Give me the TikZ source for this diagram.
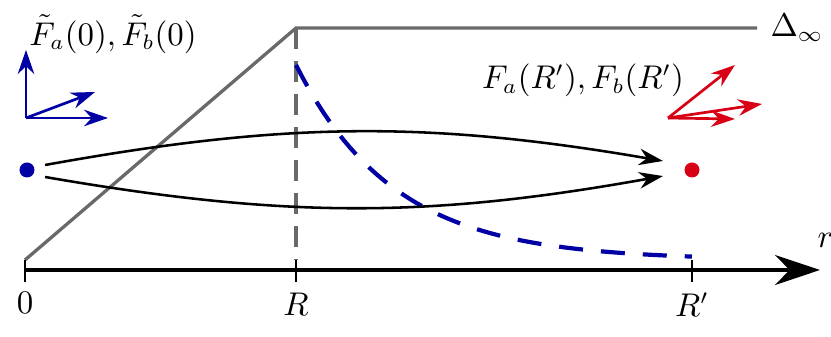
\documentclass[tikz,border=0pt]{standalone}
\definecolor{FieldBlue}{RGB}{0,0,165}
\definecolor{FieldRed}{RGB}{215,0,20}
\definecolor{WallGray}{RGB}{105,105,105}
\usetikzlibrary{positioning,arrows.meta,calc}
\tikzset{>={Stealth[length=8pt,width=5.5pt]}}
\tikzset{mydots/.style={circle,inner sep=0pt,minimum size=5pt}}
\tikzset{myvecs/.style={line width=0.9pt,->}}
\tikzset{mypaths/.style={line width=0.85pt,->,shorten >=2pt}}
\begin{document}
\begin{tikzpicture}[x=33.33pt,y=33.33pt,font=\fontsize{10.5}{12}\selectfont]
                \useasboundingbox (-0.25,-0.67) rectangle (8.06,2.70);
                % potential wall
                \coordinate (w0) at (0,0.10);
                \coordinate (wR) at (2.71,2.42);
                \coordinate (wE) at (7.32,2.42);
                \draw[WallGray,line width=1.1pt] (w0) -- (wR) -- (wE);
                \node[right=1pt of wE] (delta) {$\Delta_\infty$};
                \draw[WallGray,line width=1.1pt,dash pattern=on 7pt off 4pt] (wR) -- (2.71,0.10);
                % decaying tail
                \draw[FieldBlue,line width=1.4pt,dash pattern=on 8pt off 6pt,domain=2.71:6.67,samples=60]
                    plot (\x,{0.10+1.95*exp(-(\x-2.71)/0.98)});
                % axis
                \coordinate (o) at (0,0);
                \coordinate (rend) at (7.95,0);
                \draw[line width=1.1pt,-{Stealth[length=15pt,width=10pt]}] (o) -- (rend);
                \node[above left=4pt and -8pt of rend] (rlab) {$r$};
                \foreach \p/\n/\t in {0/t0/0, 2.71/tR/R, 6.67/tRp/R'} {
                    \draw[line width=0.8pt] (\p,0.10) -- (\p,-0.12);
                    \node[below] (\n) at (\p,-0.12) {$\t$};
                }
                % end points
                \node[mydots,fill=FieldBlue] (a) at (0.02,1.00) {};
                \node[mydots,fill=FieldRed] (b) at (6.67,1.00) {};
                \draw[mypaths] ($(a.east)+(0.1,0.05)$) coordinate (a1) to[bend left=10] ($(b.west)+(-0.15,0.08)$) coordinate (b1);
                \draw[mypaths] ($(a.east)+(0.1,-0.07)$) coordinate (a2) to[bend right=10] ($(b.west)+(-0.15,-0.05)$) coordinate (b2);
                % frames
                \coordinate (fa) at (0.01,1.52);
                \draw[FieldBlue,myvecs] (fa) -- (0.01,2.20);
                \draw[FieldBlue,myvecs] (fa) -- (0.83,1.52);
                \draw[FieldBlue,myvecs] (fa) -- (0.70,1.78);
                \node (flab) at (0.88,2.36) {$\tilde F_a(0),\tilde F_b(0)$};
                \coordinate (fb) at (6.43,1.52);
                \draw[FieldRed,myvecs] (fb) -- (7.10,2.05);
                \draw[FieldRed,myvecs] (fb) -- (7.37,1.66);
                \draw[FieldRed,myvecs] (fb) -- (7.10,1.51);
                \node (glab) at (5.58,1.90) {$F_a(R'),F_b(R')$};
            \end{tikzpicture}
\end{document}
